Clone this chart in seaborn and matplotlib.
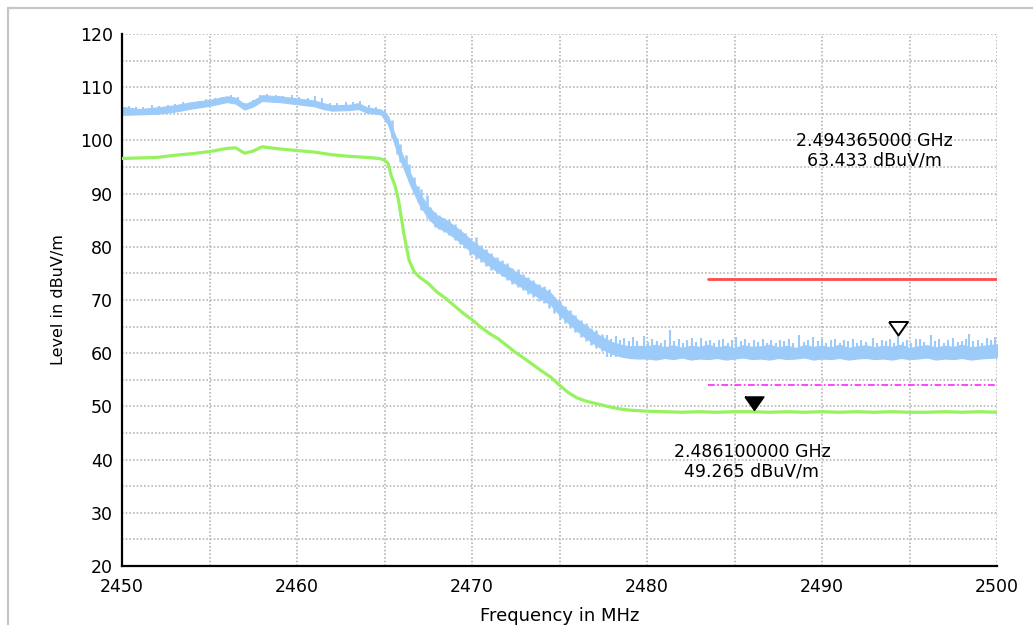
import numpy as np
import pandas as pd
import matplotlib
matplotlib.use("Agg")
import matplotlib.pyplot as plt
from matplotlib.lines import Line2D
from matplotlib.ticker import MultipleLocator
import seaborn as sns

# ---------------- data ----------------
# Peak trace (blue): lower / upper envelope of the noisy band
blue_freq = [2450.0, 2451.0, 2452.0, 2453.0, 2454.0, 2455.0, 2456.0, 2456.5, 2457.0, 2457.5,
             2458.0, 2459.0, 2460.0, 2461.0, 2461.5, 2462.0, 2463.0, 2463.5, 2464.0, 2464.8,
             2465.2, 2465.6, 2466.0, 2466.5, 2467.0, 2467.5, 2468.0, 2468.5, 2469.0, 2469.5,
             2470.0, 2470.5, 2471.0, 2471.5, 2472.0, 2472.5, 2473.0, 2473.5, 2474.0, 2474.5,
             2475.0, 2475.5, 2476.0, 2476.5, 2477.0, 2477.5, 2478.0, 2478.5, 2479.0, 2479.5,
             2480.0, 2480.5, 2481.0, 2481.5, 2482.0, 2482.5, 2483.0, 2483.5, 2484.0, 2484.5,
             2485.0, 2485.5, 2486.0, 2486.5, 2487.0, 2487.5, 2488.0, 2488.5, 2489.0, 2489.5,
             2490.0, 2490.5, 2491.0, 2491.5, 2492.0, 2492.5, 2493.0, 2493.5, 2494.0, 2494.5,
             2495.0, 2495.5, 2496.0, 2496.5, 2497.0, 2497.5, 2498.0, 2498.5, 2499.0, 2499.5,
             2500.0]
blue_lo = [104.8, 104.9, 105.0, 105.4, 106.0, 106.5, 107.2, 106.9, 105.8, 106.4,
           107.4, 107.2, 106.8, 106.4, 105.9, 105.6, 105.7, 105.9, 105.2, 104.9,
           103.0, 99.0, 95.5, 91.4, 87.9, 85.4, 83.7, 82.9, 81.7, 80.4,
           78.9, 77.7, 76.4, 75.2, 74.2, 73.1, 72.1, 71.1, 70.1, 69.1,
           67.2, 65.7, 64.2, 62.9, 61.7, 60.7, 59.9, 59.4, 59.1, 59.0,
           59.0, 58.8, 59.1, 58.9, 59.2, 58.8, 59.0, 58.9, 59.1, 58.8,
           59.0, 59.2, 58.9, 59.0, 58.8, 59.1, 58.9, 59.0, 59.2, 58.8,
           59.0, 58.9, 59.1, 58.8, 59.0, 59.1, 58.9, 59.0, 58.8, 59.1,
           58.9, 59.0, 59.2, 58.8, 59.0, 58.9, 59.1, 58.8, 59.0, 59.1,
           59.2]
blue_hi = [106.3, 105.9, 106.2, 106.6, 107.2, 107.6, 108.3, 108.0, 106.8, 107.5,
           108.5, 108.3, 107.9, 107.5, 107.0, 106.6, 106.7, 107.0, 106.2, 105.8,
           104.6, 101.0, 97.5, 93.6, 90.1, 87.6, 85.9, 85.1, 83.9, 82.6,
           81.1, 79.9, 78.6, 77.4, 76.4, 75.3, 74.3, 73.3, 72.3, 71.3,
           69.4, 67.9, 66.4, 65.1, 63.9, 62.9, 62.1, 61.6, 61.3, 61.4,
           61.3, 61.6, 61.1, 61.5, 61.0, 61.4, 61.2, 61.6, 61.1, 61.4,
           61.0, 61.5, 61.2, 61.3, 61.6, 61.1, 61.4, 61.0, 61.5, 61.2,
           61.4, 61.1, 61.6, 61.0, 61.3, 61.5, 61.1, 61.4, 61.2, 61.6,
           61.0, 61.3, 61.5, 61.1, 61.4, 61.2, 61.6, 61.1, 61.3, 61.5,
           61.7]

# Noise spikes of the blue trace, in-band part (2450-2465 MHz): freq, bottom, top
top_spike_freq = [2450.0, 2450.4, 2450.8, 2451.2, 2451.7, 2452.1, 2452.6, 2453.0, 2453.5, 2453.9,
                  2454.4, 2454.8, 2455.3, 2455.7, 2456.2, 2456.6, 2457.0, 2457.5, 2457.9, 2458.3,
                  2458.8, 2459.2, 2459.7, 2460.1, 2460.6, 2461.0, 2461.4, 2461.9, 2462.3, 2462.8,
                  2463.2, 2463.6, 2464.1, 2464.5, 2465.0]
top_spike_low = [104.6, 104.8, 104.9, 104.9, 105.0, 105.0, 105.2, 105.4, 105.7, 105.9,
                 106.2, 106.4, 106.6, 107.0, 107.2, 106.8, 105.8, 106.4, 107.2, 107.4,
                 107.3, 107.1, 107.0, 106.8, 106.6, 106.4, 106.0, 105.7, 105.6, 105.7,
                 105.8, 105.8, 105.2, 105.0, 104.0]
top_spike_high = [107.0, 106.4, 106.2, 106.3, 106.6, 106.4, 106.7, 106.9, 107.3, 107.1,
                  107.5, 107.8, 108.0, 108.2, 108.6, 108.1, 107.0, 107.6, 108.5, 108.8,
                  108.5, 108.3, 108.5, 108.2, 108.0, 108.3, 108.0, 107.1, 107.0, 107.3,
                  107.2, 107.4, 106.7, 106.3, 105.9]

# Noise spikes on the band edge (2465-2477.5 MHz): freq, bottom, top
edge_spike_freq = [2465.4, 2465.7, 2465.9, 2466.2, 2466.4, 2466.7, 2466.9, 2467.1, 2467.4, 2467.6,
                   2467.9, 2468.1, 2468.4, 2468.7, 2469.0, 2469.3, 2469.6, 2469.9, 2470.2, 2470.5,
                   2470.8, 2471.1, 2471.4, 2471.7, 2472.0, 2472.3, 2472.6, 2472.9, 2473.2, 2473.5,
                   2473.8, 2474.1, 2474.4, 2474.7, 2475.0, 2475.3, 2475.6, 2475.9, 2476.2, 2476.5,
                   2476.8, 2477.1, 2477.4]
edge_spike_low = [100.5, 97.5, 96.0, 94.0, 92.3, 90.0, 88.5, 87.0, 85.5, 84.8,
                  83.8, 83.3, 82.7, 82.2, 81.3, 80.5, 79.7, 78.5, 77.8, 77.2,
                  76.4, 75.7, 75.0, 74.5, 73.8, 73.0, 72.4, 71.8, 71.2, 70.6,
                  69.9, 69.4, 68.5, 67.5, 66.5, 65.6, 64.8, 63.9, 63.0, 62.3,
                  61.6, 60.9, 60.4]
edge_spike_high = [103.8, 100.5, 99.4, 97.3, 95.6, 93.2, 91.5, 90.8, 89.7, 87.5,
                   86.5, 86.0, 85.4, 85.0, 84.3, 83.3, 82.5, 81.6, 81.9, 80.4,
                   79.5, 78.8, 78.0, 77.5, 76.9, 76.0, 75.8, 74.8, 74.3, 73.8,
                   73.0, 72.7, 72.1, 70.6, 69.8, 68.8, 68.2, 67.1, 66.2, 65.6,
                   64.8, 64.4, 63.6]

# Noise spikes above the flat floor (2477.7-2500 MHz): freq, top (bottom = floor)
floor_base = 59.3
floor_spike_freq = [2477.7, 2477.95, 2478.2, 2478.45, 2478.7, 2478.95, 2479.2, 2479.45, 2479.8, 2480.05,
                    2480.3, 2480.55, 2480.8, 2481.05, 2481.3, 2481.55, 2481.8, 2482.05, 2482.3, 2482.55,
                    2482.8, 2483.1, 2483.35, 2483.6, 2483.85, 2484.1, 2484.35, 2484.6, 2484.85, 2485.1,
                    2485.35, 2485.6, 2485.85, 2486.1, 2486.35, 2486.6, 2486.85, 2487.1, 2487.35, 2487.6,
                    2487.85, 2488.1, 2488.35, 2488.7, 2488.95, 2489.2, 2489.5, 2489.75, 2490.0, 2490.25,
                    2490.5, 2490.75, 2491.0, 2491.25, 2491.5, 2491.75, 2492.0, 2492.25, 2492.5, 2492.9,
                    2493.15, 2493.4, 2493.65, 2493.9, 2494.1, 2494.365, 2494.6, 2494.85, 2495.1, 2495.35,
                    2495.6, 2495.85, 2496.2, 2496.45, 2496.7, 2496.95, 2497.2, 2497.5, 2497.75, 2498.0,
                    2498.2, 2498.4, 2498.65, 2498.9, 2499.15, 2499.4, 2499.65, 2499.9]
floor_spike_top = [63.4, 62.6, 63.3, 62.4, 62.9, 62.2, 63.0, 62.3, 63.2, 62.1,
                   62.7, 62.3, 62.0, 62.5, 64.4, 62.2, 62.6, 61.9, 62.4, 62.9,
                   62.1, 62.8, 62.2, 62.5, 61.9, 62.4, 62.7, 62.0, 62.5, 63.1,
                   62.2, 62.6, 61.9, 62.4, 62.1, 62.6, 62.0, 62.4, 61.9, 62.5,
                   62.2, 62.6, 62.0, 63.4, 62.1, 62.5, 63.1, 62.2, 62.6, 61.9,
                   62.4, 62.7, 62.0, 62.5, 62.2, 62.6, 61.9, 62.4, 62.1, 62.8,
                   62.0, 62.5, 62.2, 62.6, 62.0, 63.4, 62.1, 62.5, 62.0, 62.6,
                   62.7, 62.1, 63.4, 62.2, 62.6, 62.0, 62.5, 62.8, 62.1, 62.3,
                   62.6, 63.7, 62.2, 62.5, 62.0, 62.9, 62.4, 63.0]

# Average trace (green)
green_freq = [2450.0, 2451.0, 2452.0, 2453.0, 2454.0, 2455.0, 2456.0, 2456.5, 2457.0, 2457.5,
              2458.0, 2459.0, 2460.0, 2461.0, 2462.0, 2463.0, 2464.0, 2464.7, 2465.0, 2465.2,
              2465.4, 2465.6, 2465.8, 2466.1, 2466.4, 2466.7, 2467.0, 2467.5, 2468.0, 2468.5,
              2469.0, 2469.5, 2470.0, 2470.5, 2471.0, 2471.5, 2472.0, 2472.5, 2473.0, 2473.5,
              2474.0, 2474.5, 2475.0, 2475.5, 2476.0, 2476.5, 2477.0, 2477.5, 2478.0, 2478.5,
              2479.0, 2480.0, 2481.0, 2482.0, 2483.0, 2484.0, 2485.0, 2486.0, 2487.0, 2488.0,
              2489.0, 2490.0, 2491.0, 2492.0, 2493.0, 2494.0, 2495.0, 2496.0, 2497.0, 2498.0,
              2499.0, 2500.0]
green_level = [96.6, 96.7, 96.8, 97.2, 97.5, 97.9, 98.5, 98.6, 97.6, 98.0,
               98.8, 98.4, 98.1, 97.8, 97.3, 97.0, 96.8, 96.6, 96.3, 95.7,
               93.2, 91.5, 88.8, 82.6, 77.5, 75.3, 74.3, 73.1, 71.5, 70.3,
               68.9, 67.5, 66.3, 64.9, 63.7, 62.7, 61.4, 60.1, 59.0, 57.8,
               56.6, 55.5, 54.0, 52.6, 51.6, 51.0, 50.6, 50.2, 49.8, 49.5,
               49.3, 49.1, 49.0, 48.9, 49.0, 48.9, 49.0, 49.0, 48.9, 49.0,
               48.9, 49.0, 48.9, 49.0, 48.9, 49.0, 48.9, 48.9, 49.0, 48.9,
               49.0, 48.9]

# Limit lines
limit_freq = [2483.5, 2500.0]
limit_peak = [74.0, 74.0]
limit_avg = [54.0, 54.0]

# Markers
peak_marker = (2494.365, 63.433)
avg_marker = (2486.1, 49.265)
peak_text = "2.494365000 GHz\n63.433 dBuV/m"
avg_text = "2.486100000 GHz\n49.265 dBuV/m"

x_ticks = [2450, 2460, 2470, 2480, 2490, 2500]
y_ticks = [20, 30, 40, 50, 60, 70, 80, 90, 100, 110, 120]

# ---------------- style ----------------
BLUE = "#9CCBFA"
GREEN = "#96F25E"
RED = "#FF4A4A"
MAGENTA = "#FF22FF"

sns.set_style("white")
plt.rcParams["font.family"] = ["DejaVu Sans"]

fig = plt.figure(figsize=(10.33, 6.25), dpi=100)
ax = fig.add_axes([122 / 1033, 59 / 625, 875 / 1033, 532 / 625])

# outer panel frame (top and left edges visible)
fig.add_artist(Line2D([8 / 1033, 1.0], [1 - 8 / 625] * 2, transform=fig.transFigure,
                      color="#C6C6C6", lw=1.6))
fig.add_artist(Line2D([8 / 1033] * 2, [0.0, 1 - 8 / 625], transform=fig.transFigure,
                      color="#C6C6C6", lw=1.6))

# blue peak trace
ax.fill_between(blue_freq, blue_lo, blue_hi, color=BLUE, lw=0.8, edgecolor=BLUE, zorder=2)
ax.vlines(top_spike_freq, top_spike_low, top_spike_high, color=BLUE, lw=1.4, zorder=2)
ax.vlines(edge_spike_freq, edge_spike_low, edge_spike_high, color=BLUE, lw=1.8, zorder=2)
ax.vlines(floor_spike_freq, floor_base, floor_spike_top, color=BLUE, lw=1.5, zorder=2)

# green average trace
sns.lineplot(x=green_freq, y=green_level, ax=ax, color=GREEN, lw=2.3,
             estimator=None, sort=False, zorder=3)

# limit lines
sns.lineplot(x=limit_freq, y=limit_peak, ax=ax, color=RED, lw=2.0,
             estimator=None, zorder=4)
sns.lineplot(x=limit_freq, y=limit_avg, ax=ax, color=MAGENTA, lw=1.2,
             estimator=None, zorder=4)
ax.lines[-1].set_linestyle((0, (4, 1.5, 1, 1.5)))

# markers (apex of triangle at the data point)
tri = [(-0.7, 1.0), (0.7, 1.0), (0.0, 0.0), (-0.7, 1.0)]
ax.plot([peak_marker[0]], [peak_marker[1]], marker=tri, markersize=19.5,
        markerfacecolor="white", markeredgecolor="black", markeredgewidth=1.4,
        linestyle="none", zorder=6, clip_on=False)
ax.plot([avg_marker[0]], [avg_marker[1]], marker=tri, markersize=19.5,
        markerfacecolor="black", markeredgecolor="black", markeredgewidth=1.0,
        linestyle="none", zorder=6, clip_on=False)

ax.text(2493.0, 98.1, peak_text, ha="center", va="center", fontsize=12.5,
        linespacing=1.1, color="black", zorder=7)
ax.text(2486.0, 39.6, avg_text, ha="center", va="center", fontsize=12.5,
        linespacing=1.1, color="black", zorder=7)

# axes
ax.set_xlim(2450, 2500)
ax.set_ylim(20, 120)
ax.set_xticks(x_ticks)
ax.set_yticks(y_ticks)
ax.xaxis.set_minor_locator(MultipleLocator(5))
ax.yaxis.set_minor_locator(MultipleLocator(5))
ax.set_axisbelow(True)
ax.grid(which="both", color="#B8B8B8", linestyle=(0, (1, 1.2)), lw=1.2)

for side in ["top", "right"]:
    ax.spines[side].set_visible(False)
for side in ["left", "bottom"]:
    ax.spines[side].set_color("black")
    ax.spines[side].set_linewidth(1.6)

ax.tick_params(axis="y", which="both", direction="inout", length=9.5, width=1.5,
               colors="black", labelsize=12.5, pad=2)
ax.tick_params(axis="x", which="both", direction="inout", length=7.5, width=1.5,
               colors="black", labelsize=12.5, pad=5)

ax.set_xlabel("Frequency in MHz", fontsize=13, color="black", labelpad=8)
ax.set_ylabel("Level in dBuV/m", fontsize=11.5, color="black", labelpad=10)

fig.savefig("out.png", dpi=100, facecolor="white")
